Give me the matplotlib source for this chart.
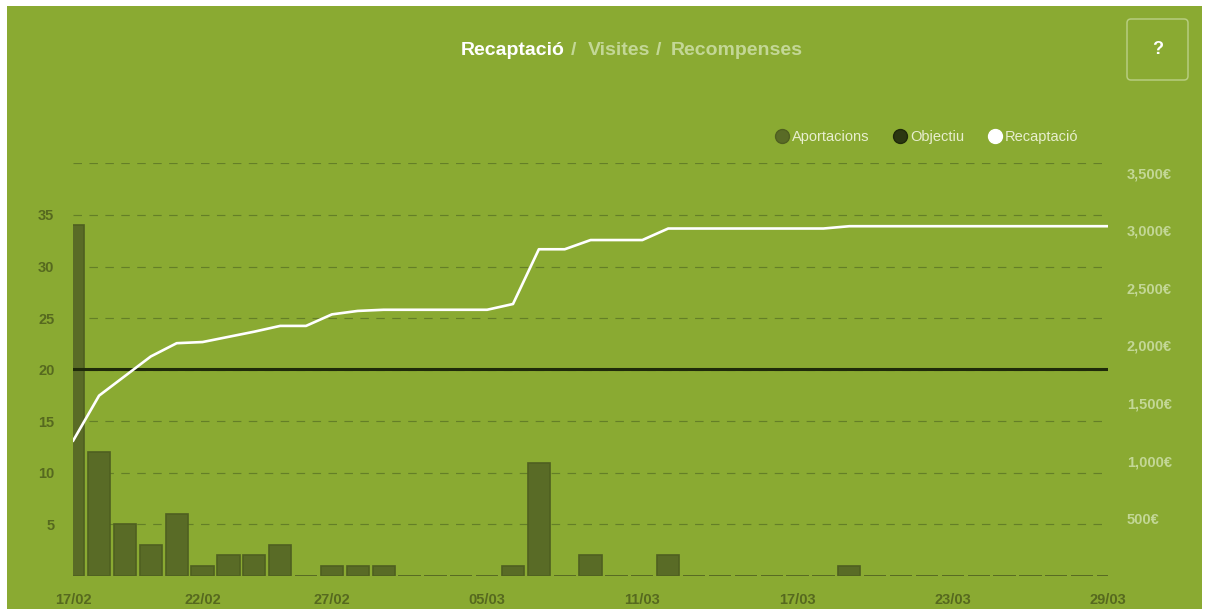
import matplotlib.pyplot as plt
from matplotlib.lines import Line2D
from matplotlib.patches import Rectangle, FancyBboxPatch
from matplotlib.transforms import IdentityTransform
import pandas as pd

plt.rcParams['font.family'] = ['Liberation Sans', 'DejaVu Sans']

# one value per day, 17/02 -> 29/03
dies = pd.date_range('2015-02-17', '2015-03-29', freq='D')
aportacions = [34, 12, 5, 3, 6, 1, 2, 2, 3, 0,
               1, 1, 1, 0, 0, 0, 0, 1, 11, 0,
               2, 0, 0, 2, 0, 0, 0, 0, 0, 0,
               1, 0, 0, 0, 0, 0, 0, 0, 0, 0, 0]
recaptacio = [1175, 1565, 1735, 1905, 2020, 2030, 2075, 2120, 2170, 2170,
              2270, 2300, 2310, 2310, 2310, 2310, 2310, 2360, 2835, 2835,
              2915, 2915, 2915, 3015, 3015, 3015, 3015, 3015, 3015, 3015,
              3035, 3035, 3035, 3035, 3035, 3035, 3035, 3035, 3035, 3035, 3035]
objectiu = 1800

etiquetes_x = ['17/02', '22/02', '27/02', '05/03', '11/03', '17/03', '23/03', '29/03']
ticks_esq = [5, 10, 15, 20, 25, 30, 35, 40]
ticks_dreta = [500, 1000, 1500, 2000, 2500, 3000, 3500]

# colors
verd = '#8aaa32'
barra = '#596b26'
barra_vora = '#4f5f20'
graella = '#647f27'
fosc = '#1f2a0a'
text_fosc = '#56691f'
text_clar = '#c3d796'
llegenda_text = '#e8eecf'

W, H = 1209, 609
fig = plt.figure(figsize=(W / 100, H / 100), dpi=100)
fig.patch.set_facecolor('white')
fig.add_artist(Rectangle((7 / W, 0), (W - 14) / W, (H - 6) / H,
                         transform=fig.transFigure, facecolor=verd,
                         edgecolor='none', zorder=-1))

ax = fig.add_axes([73.2 / W, 1 - 576 / H, (1108 - 73.2) / W, (576 - 163.4) / H])
ax.patch.set_visible(False)

x = list(range(len(dies)))
etiq_dies = [d.strftime('%d/%m') for d in dies]

ax.bar(x, aportacions, width=0.86, color=barra, edgecolor=barra_vora,
       linewidth=1.2, zorder=2)
ax.set_xlim(0, len(dies) - 1)
ax.set_ylim(0, 40)
ax.set_axisbelow(True)
ax.grid(axis='y', color=graella, linestyle=(0, (7.2, 6.3)), linewidth=0.85)

ax.set_yticks(ticks_esq, [str(t) if t < 40 else '' for t in ticks_esq],
              fontweight='bold')
ax.set_xticks([etiq_dies.index(e) for e in etiquetes_x], etiquetes_x,
              fontweight='bold')
ax.tick_params(axis='y', length=0, labelsize=10.5, labelcolor=text_fosc, pad=13.5)
ax.tick_params(axis='x', length=0, labelsize=10.5, labelcolor=text_fosc, pad=12.5)

ax2 = ax.twinx()
ax2.set_ylim(0, 3580)
ax2.axhline(objectiu, color=fosc, linewidth=2.2, zorder=3)
ax2.plot(x, recaptacio, color='white', linewidth=1.9, zorder=4)
ax2.set_yticks(ticks_dreta, [f'{t:,}€' for t in ticks_dreta], fontweight='bold')
ax2.tick_params(axis='y', length=0, labelsize=10.5, labelcolor=text_clar, pad=13.5)

for a in (ax, ax2):
    for s in a.spines.values():
        s.set_visible(False)

# legend
handles = [
    Line2D([], [], linestyle='none', marker='o', markersize=10,
           markerfacecolor=barra, markeredgecolor=barra_vora, markeredgewidth=1),
    Line2D([], [], linestyle='none', marker='o', markersize=10,
           markerfacecolor='#2b3711', markeredgecolor=fosc, markeredgewidth=1),
    Line2D([], [], linestyle='none', marker='o', markersize=10,
           markerfacecolor='white', markeredgecolor='white'),
]
fig.legend(handles, ['Aportacions', 'Objectiu', 'Recaptació'], ncol=3,
           loc='center left', bbox_to_anchor=(774.7 / W, 1 - 137 / H),
           frameon=False, fontsize=10.5, labelcolor=llegenda_text,
           handlelength=1, handletextpad=0.18, columnspacing=1.6,
           borderpad=0, borderaxespad=0)

# title tabs
base = 1 - 55 / H
fig.text(461 / W, base, 'Recaptació', color='white', fontsize=14,
         fontweight='bold', va='baseline')
fig.text(570.5 / W, base, '/', color=text_clar, fontsize=14,
         fontweight='bold', va='baseline')
fig.text(588 / W, base, 'Visites', color=text_clar, fontsize=14,
         fontweight='bold', va='baseline')
fig.text(655.5 / W, base, '/', color=text_clar, fontsize=14,
         fontweight='bold', va='baseline')
fig.text(671 / W, base, 'Recompenses', color=text_clar, fontsize=14,
         fontweight='bold', va='baseline')

# help button
fig.add_artist(FancyBboxPatch((1127, H - 80), 61, 61,
                              boxstyle='round,pad=0,rounding_size=4',
                              transform=IdentityTransform(),
                              facecolor='none', edgecolor='#b7cd7f',
                              linewidth=1.1))
fig.text(1158 / W, 1 - 50 / H, '?', color='white', fontsize=13,
         fontweight='bold', ha='center', va='center')

fig.savefig('out.png', dpi=100, facecolor=fig.get_facecolor())
